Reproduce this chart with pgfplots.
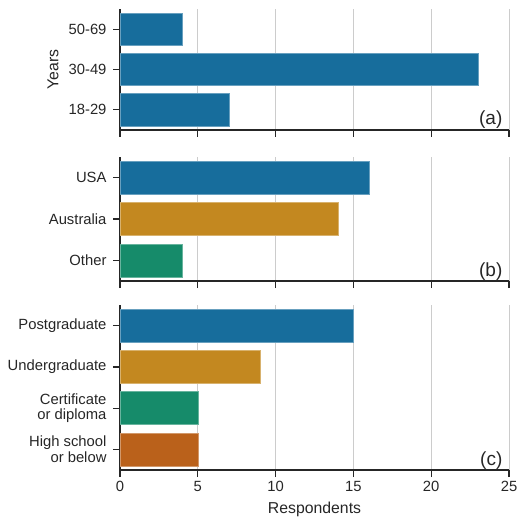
\documentclass[border=0pt]{standalone}
\usepackage{pgfplots}
\pgfplotsset{compat=1.18}
\usepackage{fontspec}
\setmainfont{Liberation Sans}
\definecolor{cbblue}{RGB}{23,109,156}
\definecolor{cborange}{RGB}{195,136,32}
\definecolor{cbgreen}{RGB}{22,139,106}
\definecolor{cbred}{RGB}{186,97,27}
\definecolor{spine}{RGB}{38,38,38}
\definecolor{txt}{RGB}{38,38,38}
\tikzset{
bar1/.style={fill=#1, draw=#1!65!white, line width=0.6pt},
plab/.style={anchor=base east, font=\fontsize{19}{22}\selectfont, text=txt, yshift=5pt},
}
\pgfplotsset{panel/.style={
  scale only axis, width=389pt,
  xmin=0, xmax=25, xtick={0,5,...,25},
  axis x line*=bottom, axis y line*=left,
  axis line style={-, line width=1.25pt, color=spine},
  tick align=outside, major tick length=7pt,
  every tick/.style={line width=1.25pt, color=spine},
  xmajorgrids, major grid style={line width=0.8pt, color=black!20},
  xbar, bar width=0.8,
  ticklabel style={font=\fontsize{14.8}{15.5}\selectfont, text=txt},
  /pgf/number format/assume math mode=true,
  label style={font=\fontsize{15.8}{18}\selectfont, text=txt},
  yticklabel style={align=right, xshift=-3pt},
  xticklabel style={yshift=-1pt},
  clip=false,
}}
\begin{document}
\begin{tikzpicture}
\useasboundingbox (0pt,0pt) rectangle (517pt,-518pt);
% (a)
\begin{axis}[panel, at={(120pt,-130pt)}, anchor=south west, height=121pt,
  ymin=-0.5, ymax=2.5, ytick={0,1,2}, yticklabels={18-29,30-49,50-69},
  xticklabels={},
  ylabel={Years},
  ylabel style={at={(axis description cs:-0.172,0.5)}, anchor=center}]
\addplot[bar1=cbblue, bar shift=0pt] coordinates {(7,0) (23,1) (4,2)};
\node[plab] at (rel axis cs:0.992,0) {(a)};
\end{axis}
% (b)
\begin{axis}[panel, at={(120pt,-281pt)}, anchor=south west, height=124pt,
  ymin=-0.5, ymax=2.5, ytick={0,1,2}, yticklabels={Other,Australia,USA},
  xticklabels={}]
\addplot[bar1=cbblue, bar shift=0pt] coordinates {(16,2)};
\addplot[bar1=cborange, bar shift=0pt] coordinates {(14,1)};
\addplot[bar1=cbgreen, bar shift=0pt] coordinates {(4,0)};
\node[plab] at (rel axis cs:0.992,0) {(b)};
\end{axis}
% (c)
\begin{axis}[panel, at={(120pt,-470pt)}, anchor=south west, height=165pt,
  ymin=-0.5, ymax=3.5, ytick={0,1,2,3},
  yticklabels={{High school\\or below},{Certificate\\or diploma},Undergraduate,Postgraduate},
  xlabel={Respondents},
  xlabel style={at={(axis description cs:0.5,-0.236)}, anchor=center}]
\addplot[bar1=cbblue, bar shift=0pt] coordinates {(15,3)};
\addplot[bar1=cborange, bar shift=0pt] coordinates {(9,2)};
\addplot[bar1=cbgreen, bar shift=0pt] coordinates {(5,1)};
\addplot[bar1=cbred, bar shift=0pt] coordinates {(5,0)};
\node[plab] at (rel axis cs:0.992,0) {(c)};
\end{axis}
\end{tikzpicture}
\end{document}
